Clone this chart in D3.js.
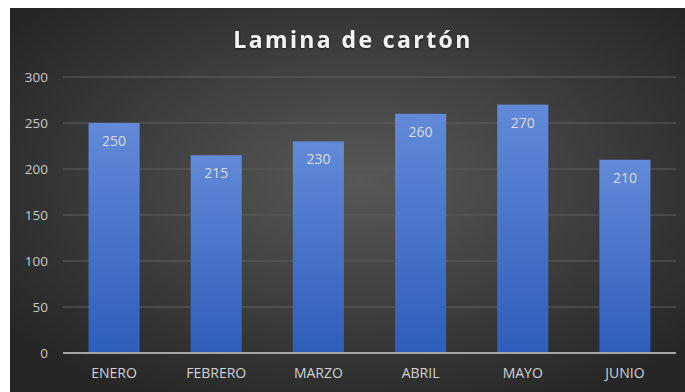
<!DOCTYPE html>
<html>
<head>
<meta charset="utf-8">
<script src="https://cdn.jsdelivr.net/npm/d3@7"></script>
<style>
  html, body { margin: 0; padding: 0; background: #ffffff; }
  svg { display: block; }
  text { font-family: "Open Sans", "Noto Sans", sans-serif; }
</style>
</head>
<body>
<div id="chart"></div>
<script>
// Monthly cardboard sheet quantities
const categories = ["ENERO", "FEBRERO", "MARZO", "ABRIL", "MAYO", "JUNIO"];
const values = [250, 215, 230, 260, 270, 210];
const yTicks = [0, 50, 100, 150, 200, 250, 300];
const title = "Lamina de cartón";

const W = 685, H = 392;
const frame = { x: 10, y: 8, w: W - 10, h: H - 8 };
const margin = { top: 77, right: 9, bottom: 39, left: 63 };

const svg = d3.select("#chart").append("svg")
  .attr("width", W).attr("height", H);

const defs = svg.append("defs");

// Dark backdrop, brighter toward the middle
const bg = defs.append("radialGradient").attr("id", "bgGrad")
  .attr("cx", "52%").attr("cy", "45%").attr("r", "65%");
bg.append("stop").attr("offset", "0%").attr("stop-color", "#585858");
bg.append("stop").attr("offset", "100%").attr("stop-color", "#262626");

// Bar fill: light blue on top fading to deeper blue
const barGrad = defs.append("linearGradient").attr("id", "barGrad")
  .attr("x1", 0).attr("y1", 0).attr("x2", 0).attr("y2", 1);
barGrad.append("stop").attr("offset", "0%").attr("stop-color", "#628ad8");
barGrad.append("stop").attr("offset", "100%").attr("stop-color", "#2f5dbb");

const shadow = defs.append("filter").attr("id", "txtShadow")
  .attr("x", "-10%").attr("y", "-30%").attr("width", "120%").attr("height", "160%");
shadow.append("feDropShadow").attr("dx", 0).attr("dy", 1.2)
  .attr("stdDeviation", 1).attr("flood-color", "#000").attr("flood-opacity", 0.5);

svg.append("rect")
  .attr("x", frame.x).attr("y", frame.y)
  .attr("width", frame.w).attr("height", frame.h)
  .attr("fill", "url(#bgGrad)");

const x = d3.scaleBand()
  .domain(categories)
  .range([margin.left, W - margin.right])
  .paddingInner(0.5).paddingOuter(0.25);

const y = d3.scaleLinear()
  .domain([0, 300])
  .range([H - margin.bottom, margin.top]);

// Gridlines
svg.append("g").attr("class", "grid")
  .selectAll("line").data(yTicks.filter(d => d > 0)).join("line")
  .attr("x1", margin.left).attr("x2", W - margin.right)
  .attr("y1", d => y(d)).attr("y2", d => y(d))
  .attr("stroke", "#5e5e5e").attr("stroke-width", 1);

// Bars
svg.append("g").selectAll("rect").data(values).join("rect")
  .attr("x", (d, i) => x(categories[i]))
  .attr("y", d => y(d))
  .attr("width", x.bandwidth())
  .attr("height", d => y(0) - y(d))
  .attr("fill", "url(#barGrad)");

// Value labels inside the top of each bar
svg.append("g").selectAll("text").data(values).join("text")
  .attr("x", (d, i) => x(categories[i]) + x.bandwidth() / 2)
  .attr("y", d => y(d) + 23)
  .attr("text-anchor", "middle")
  .attr("font-size", 14)
  .attr("fill", "#dcdcdc")
  .text(d => d);

// Y axis
const yAxis = svg.append("g")
  .attr("transform", `translate(${margin.left},0)`)
  .call(d3.axisLeft(y).tickValues(yTicks).tickSize(0).tickPadding(15));
yAxis.select(".domain").remove();
yAxis.selectAll("text")
  .attr("font-size", 13.5)
  .attr("fill", "#c8c8c8")
  .style("font-family", "'Open Sans', sans-serif");

// X axis
const xAxis = svg.append("g")
  .attr("transform", `translate(0,${y(0)})`)
  .call(d3.axisBottom(x).tickSize(0).tickPadding(15));
xAxis.select(".domain")
  .attr("d", `M${margin.left},0H${W - margin.right}`)
  .attr("stroke", "#a6a6a6").attr("stroke-width", 2);
xAxis.selectAll("text")
  .attr("font-size", 14)
  .attr("fill", "#d2d2d2")
  .style("font-family", "'Open Sans', sans-serif");

// Title
svg.append("text")
  .attr("x", 353).attr("y", 48)
  .attr("text-anchor", "middle")
  .attr("font-size", 23)
  .attr("font-weight", "bold")
  .attr("letter-spacing", 2.4)
  .attr("fill", "#f2f2f2")
  .attr("filter", "url(#txtShadow)")
  .text(title);
</script>
</body>
</html>
